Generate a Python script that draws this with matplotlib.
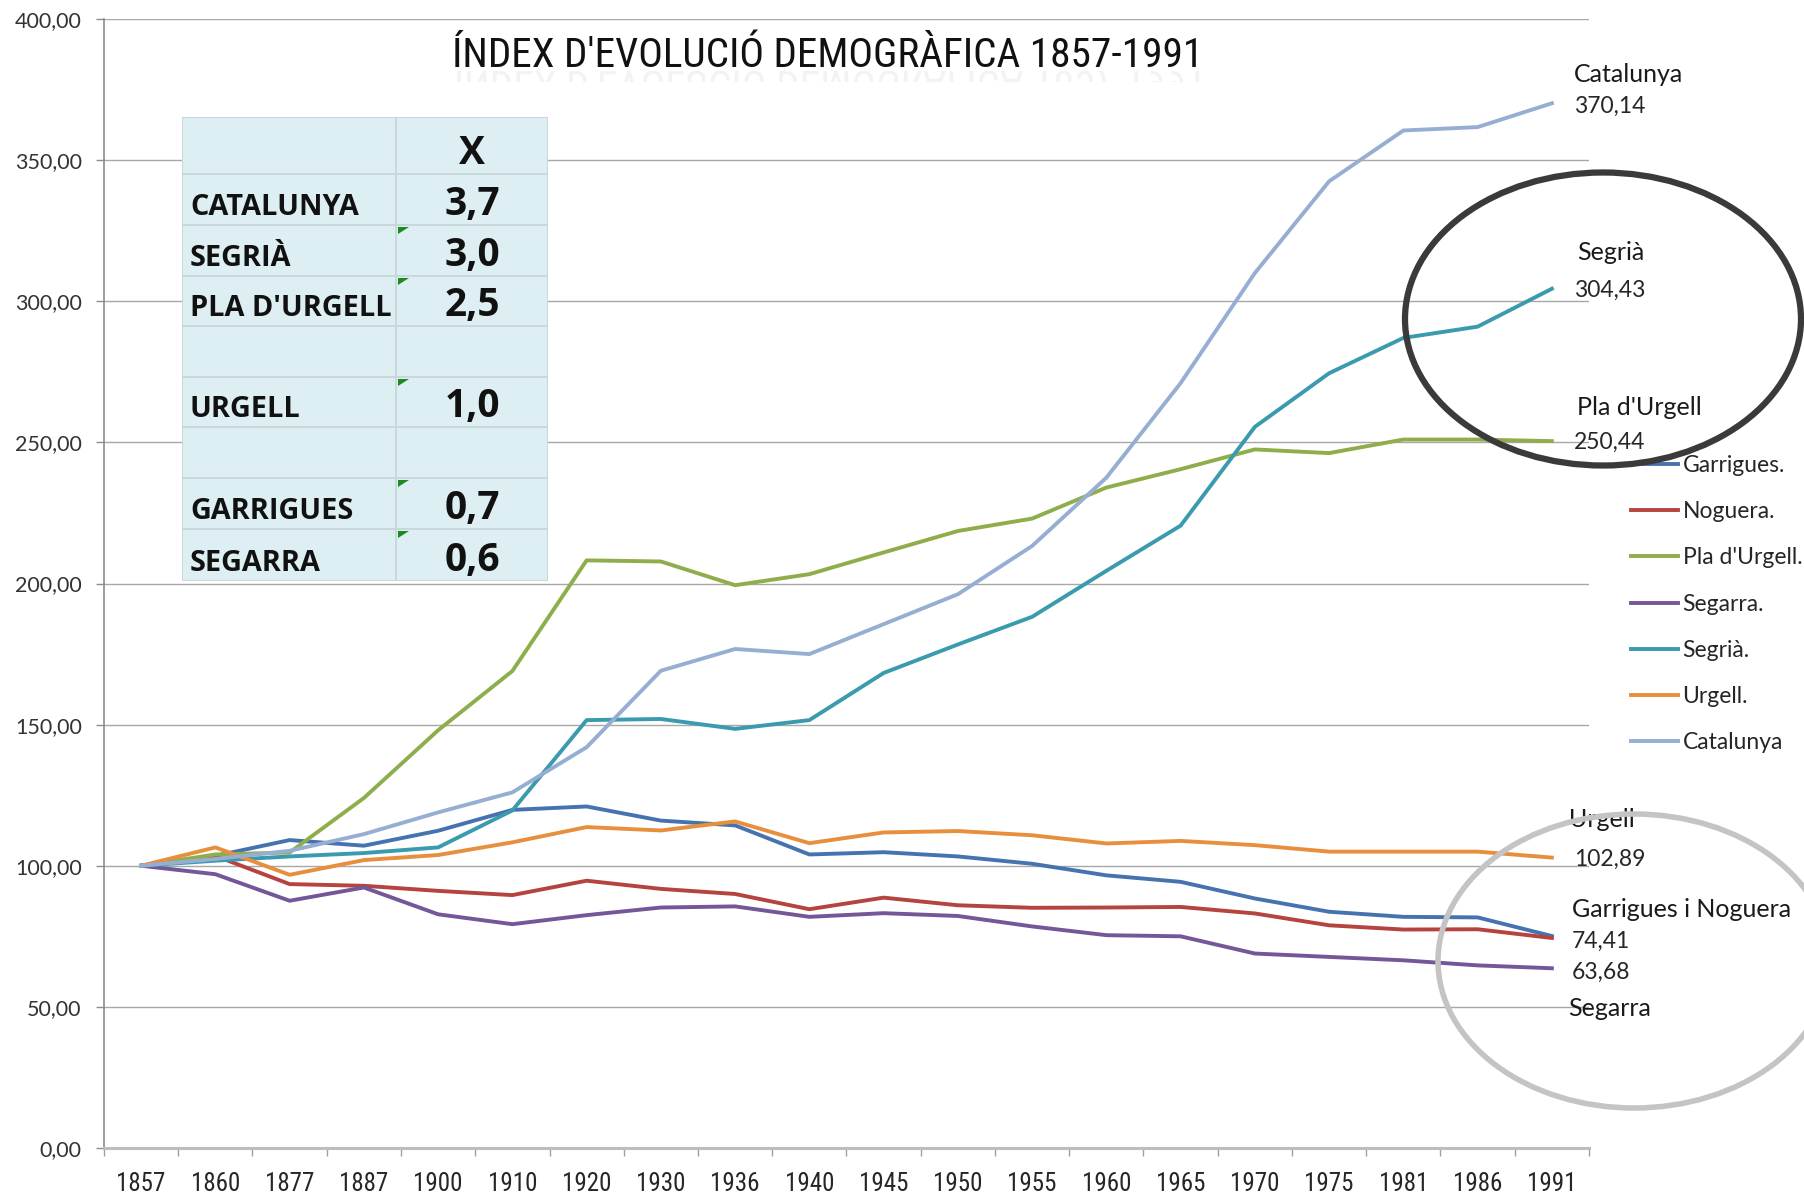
import numpy as np
import matplotlib
matplotlib.use("Agg")
import matplotlib.pyplot as plt
from matplotlib import font_manager as fm
from matplotlib.patches import Ellipse, Rectangle, Polygon, PathPatch
from matplotlib.textpath import TextPath
from matplotlib.font_manager import FontProperties
from matplotlib.transforms import Affine2D, Bbox
from matplotlib.ticker import FuncFormatter

plt.rcParams['font.family'] = ['Lato', 'DejaVu Sans']

# categories (years) and index values, 1857 = 100
years = [1857, 1860, 1877, 1887, 1900, 1910, 1920, 1930, 1936, 1940,
         1945, 1950, 1955, 1960, 1965, 1970, 1975, 1981, 1986, 1991]

garrigues = [100, 103.5, 109.1, 107.1, 112.4, 119.8, 121.0, 116.0, 114.3, 104.0,
             104.8, 103.3, 100.7, 96.6, 94.3, 88.4, 83.7, 81.9, 81.7, 75.1]
noguera = [100, 103.5, 93.5, 92.9, 91.1, 89.6, 94.7, 91.8, 90.0, 84.6,
           88.7, 86.0, 85.1, 85.2, 85.4, 83.1, 78.9, 77.4, 77.5, 74.41]
pla_urgell = [100, 104.0, 104.7, 124.0, 148.0, 169.0, 208.2, 207.8, 199.4, 203.3,
              211.0, 218.6, 223.0, 234.0, 240.5, 247.5, 246.2, 251.0, 251.0, 250.44]
segarra = [100, 97.0, 87.6, 92.3, 82.8, 79.3, 82.5, 85.2, 85.6, 81.9,
           83.2, 82.2, 78.5, 75.4, 75.0, 68.9, 67.7, 66.5, 64.7, 63.68]
segria = [100, 101.8, 103.3, 104.5, 106.5, 119.6, 151.6, 152.0, 148.5, 151.6,
          168.3, 178.4, 188.2, 204.5, 220.5, 255.5, 274.5, 287.0, 291.0, 304.43]
urgell = [100, 106.5, 96.8, 102.0, 103.8, 108.3, 113.7, 112.5, 115.7, 108.0,
          111.8, 112.3, 110.8, 107.9, 108.8, 107.3, 105.0, 105.0, 105.0, 102.89]
catalunya = [100, 102.4, 105.3, 111.2, 118.9, 126.0, 142.0, 169.1, 176.8, 175.0,
             185.6, 196.2, 213.3, 237.5, 271.0, 310.0, 342.5, 360.5, 361.7, 370.14]

series_labels = ["Garrigues.", "Noguera.", "Pla d'Urgell.", "Segarra.", "Segrià.", "Urgell.", "Catalunya"]
series_values = [garrigues, noguera, pla_urgell, segarra, segria, urgell, catalunya]
series_colors = ["#4673B0", "#B5433F", "#8EAE4C", "#735799", "#3A9AAE", "#E88F3E", "#97AED3"]

# inset table
table_labels = ["", "CATALUNYA", "SEGRIÀ", "PLA D'URGELL", "", "URGELL", "", "GARRIGUES", "SEGARRA"]
table_values = ["X", "3,7", "3,0", "2,5", "", "1,0", "", "0,7", "0,6"]
table_flags = [False, False, True, True, False, True, False, True, True]

# end-of-line annotations
end_names = ["Catalunya", "Segrià", "Pla d'Urgell", "Urgell", "Garrigues i Noguera", "Segarra"]
end_series = [catalunya, segria, pla_urgell, urgell, noguera, segarra]
name_offsets = [(22, 32), (25, 38), (25, 35), (17, 40), (20, 31), (16, -36)]
value_offsets = [(22, -3), (22, -2), (22, -1), (22, -2), (20, -3), (20, -4)]

title = "ÍNDEX D'EVOLUCIÓ DEMOGRÀFICA 1857-1991"

W, H = 1804, 1195
fig = plt.figure(figsize=(W / 100, H / 100), dpi=100)
ax = fig.add_axes([104 / W, 1 - 1148 / H, (1589 - 104) / W, (1148 - 19) / H])

x = np.arange(len(years))
handles = []
for vals, lab, col in zip(series_values, series_labels, series_colors):
    ln, = ax.plot(x, vals, color=col, lw=2.8, label=lab, solid_joinstyle='round', zorder=3)
    handles.append(ln)

ax.set_xlim(-0.5, len(years) - 0.5)
ax.set_ylim(0, 400)
ax.set_yticks(np.arange(0, 401, 50))
ax.yaxis.set_major_formatter(FuncFormatter(lambda v, p: f"{v:.2f}".replace('.', ',')))
ax.yaxis.grid(True, color='#A8A8A8', lw=1.0)
ax.set_axisbelow(True)

# pick a narrow face if there is one
ttf = fm.fontManager.ttflist
names = {f.name for f in ttf}
narrow = None
for cand in ['Liberation Sans Narrow', 'Arial Narrow', 'Roboto Condensed', 'Open Sans Condensed']:
    if cand in names:
        narrow = FontProperties(family=cand)
        break
if narrow is None and any(f.name == 'DejaVu Sans' and 'condensed' in str(f.stretch) for f in ttf):
    narrow = FontProperties(family='DejaVu Sans', stretch='condensed')
if narrow is None:
    narrow = FontProperties(family='Liberation Sans')

ax.set_xticks(x)
ax.set_xticklabels([str(y) for y in years], fontproperties=narrow, color='#262626')
for lbl in ax.get_xticklabels():
    lbl.set_fontsize(18)
ax.set_xticks(np.arange(-0.5, len(years), 1), minor=True)
ax.tick_params(axis='x', which='major', length=0, pad=17)
ax.tick_params(axis='x', which='minor', length=6, width=1, color='#A0A0A0')
ax.tick_params(axis='y', length=6, width=1, color='#8C8C8C', labelsize=15.5,
               labelcolor='#333333', pad=10)
for s in ['top', 'right']:
    ax.spines[s].set_visible(False)
ax.spines['left'].set_color('#8C8C8C')
ax.spines['left'].set_linewidth(1.2)
ax.spines['bottom'].set_color('#BDBDBD')
ax.spines['bottom'].set_linewidth(2.2)

# end labels
for name, vals, no, vo in zip(end_names, end_series, name_offsets, value_offsets):
    v = vals[-1]
    ax.annotate(f"{v:.2f}".replace('.', ','), xy=(x[-1], v), xytext=vo,
                textcoords='offset pixels', va='center', ha='left', fontsize=16.5,
                color='#262626', annotation_clip=False, zorder=5)
    ax.annotate(name, xy=(x[-1], v), xytext=(no[0], vo[1] + no[1]),
                textcoords='offset pixels', va='center', ha='left', fontsize=18,
                color='#1a1a1a', annotation_clip=False, zorder=5)

# legend
fig.legend(handles, series_labels, loc='upper left', bbox_to_anchor=(1631 / W, 1 - 455 / H),
           frameon=False, fontsize=16.5, handlelength=2.05, handletextpad=0.2,
           labelspacing=1.10, borderpad=0, borderaxespad=0, labelcolor='#262626')

# table
tax = fig.add_axes([182 / W, 1 - 581 / H, 366 / W, 464 / H])
tax.set_xlim(0, 366)
tax.set_ylim(464, 0)
tax.axis('off')
rows_y = [0, 57, 108, 159, 209, 260, 310, 361, 412, 464]
col_x = 214
tax.add_patch(Rectangle((0, 0), 366, 464, facecolor='#DDEFF2', edgecolor='none'))
for yy in rows_y:
    tax.plot([0, 366], [yy, yy], color='#C6D6DA', lw=1.3)
for xx in [0, col_x, 366]:
    tax.plot([xx, xx], [0, 464], color='#C6D6DA', lw=1.3)
for i, (lab, val, flag) in enumerate(zip(table_labels, table_values, table_flags)):
    yb = rows_y[i + 1] - 10
    tax.text(8, yb, lab, va='baseline', ha='left', fontsize=20.8, fontweight='bold',
             family=['Open Sans', 'DejaVu Sans'], color='#111111')
    tax.text((col_x + 366) / 2, yb, val, va='baseline', ha='center', fontsize=28,
             fontweight='bold', family=['Open Sans', 'DejaVu Sans'], color='#111111')
    if flag:
        yt = rows_y[i]
        tax.add_patch(Polygon([[col_x + 2, yt + 2], [col_x + 13, yt + 2], [col_x + 2, yt + 9]],
                              closed=True, facecolor='#1E8A1E', edgecolor='none'))

# title, sized so its width matches, with a faint reflection
title_fp = narrow.copy()
title_fp.set_size(30)
ttl = fig.text(828 / W, 1 - 67 / H, title, fontproperties=title_fp, ha='center',
               va='baseline', color='#111111')
fig.canvas.draw()
tw = ttl.get_window_extent().width
title_fp.set_size(min(32, 30 * 753 / tw))
ttl.set_fontproperties(title_fp)

tp = TextPath((0, 0), title, prop=title_fp)
ext = tp.get_extents()
sc = 100 / 72
x0 = 828 - (ext.x0 + ext.width / 2) * sc
base = H - 67
refl = PathPatch(tp, transform=Affine2D().scale(sc, -sc).translate(x0, base - 4),
                 facecolor='#A0A0A0', edgecolor='none', alpha=0.12)
refl.set_clip_box(Bbox([[0, base - 15], [W, base - 4]]))
fig.add_artist(refl)

# highlight ellipses
fig.add_artist(Ellipse((1603 / W, 1 - 319 / H), 396 / W, 293 / H, transform=fig.transFigure,
                       fill=False, edgecolor='#3a3a3a', lw=4.5, zorder=10))
fig.add_artist(Ellipse((1634 / W, 1 - 961 / H), 392 / W, 294 / H, transform=fig.transFigure,
                       fill=False, edgecolor='#C4C4C4', lw=4, zorder=10))

plt.savefig("out.png", dpi=100)
plt.close()
